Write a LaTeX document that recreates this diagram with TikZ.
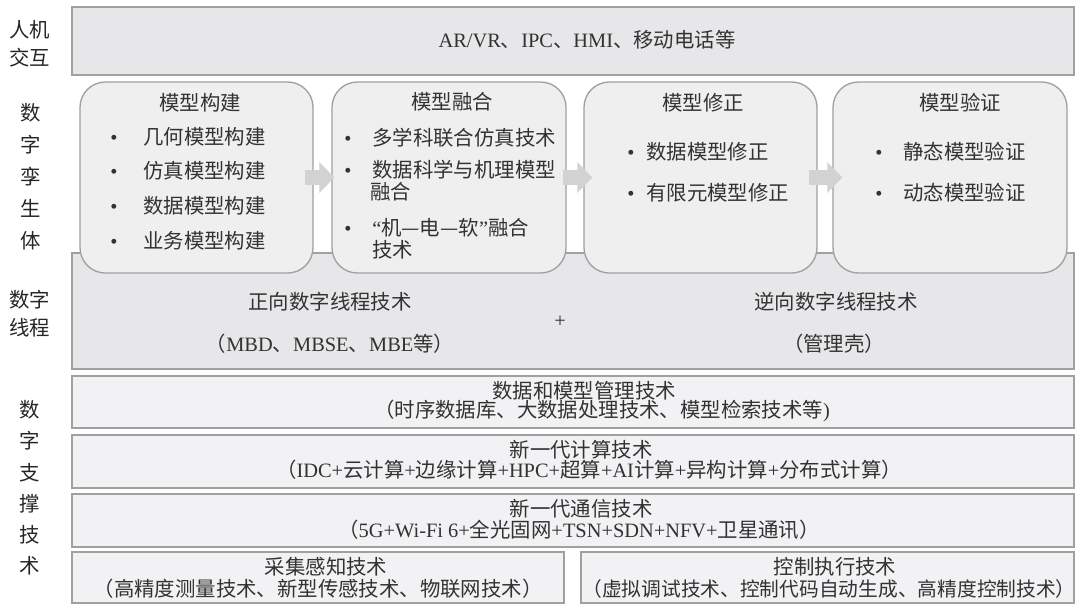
\documentclass[tikz,border=0pt]{standalone}
\usepackage{fontspec}
\setmainfont{Noto Sans CJK SC}
\newfontfamily\latin{Liberation Serif}
\newcommand{\lat}[1]{{\latin #1}}
\newcommand{\bul}[1]{\makebox[#1][l]{\lat{•}}}
\usetikzlibrary{arrows.meta,fit}
\definecolor{bandfill}{RGB}{231,231,233}
\definecolor{twinfill}{RGB}{239,239,240}
\definecolor{techfill}{RGB}{242,242,244}
\definecolor{edgegray}{RGB}{160,160,160}
\definecolor{arrowgray}{RGB}{210,210,210}
\definecolor{txtgray}{RGB}{50,50,50}

\begin{document}
\begin{tikzpicture}[x=0.75pt,y=-0.75pt,
    band/.style={draw=edgegray,fill=bandfill,line width=1pt,inner sep=0pt},
    twin/.style={draw=edgegray,fill=twinfill,line width=1pt,rounded corners=19pt,inner sep=0pt},
    tech/.style={draw=edgegray,fill=techfill,line width=1pt,inner sep=0pt},
    flow/.style={draw=arrowgray,line width=11.25pt,-{Triangle[length=11.25pt,width=22.5pt]}},
    txt/.style={text=txtgray,inner sep=0pt,font=\fontsize{15.3}{16.5}\selectfont},
    side/.style={text=black!85,inner sep=0pt,align=center,font=\fontsize{15.3}{21}\selectfont},
    item/.style={txt,anchor=west,align=left}]
\useasboundingbox (0,0) rectangle (1080,612);

%Shape: Rectangle [top band]
\node[band,fit={(72,7) (1074,75)}] (hmi) {};
%Shape: Rectangle [thread band]
\node[band,fit={(72,253) (1074,369)}] (thread) {};
%Shape: Rounded Rectangles [twin stages]
\node[twin,fit={(80,82) (313,273)}] (build) {};
\node[twin,fit={(332,82) (566,273)}] (fuse) {};
\node[twin,fit={(584,82) (817,273)}] (correct) {};
\node[twin,fit={(833,82) (1067,273)}] (verify) {};
%Shape: Rectangles [support layers]
\node[tech,fit={(72,376) (1074,428)}] (datamgmt) {};
\node[tech,fit={(72,435) (1074,488)}] (compute) {};
\node[tech,fit={(72,494) (1074,547)}] (comms) {};
\node[tech,fit={(72,552) (564,603)}] (sensing) {};
\node[tech,fit={(581,552) (1074,603)}] (control) {};

%Block Arrows
\draw[flow] ([shift={(-9,0)}]build.east) -- ([shift={(3,0)}]fuse.west);
\draw[flow] ([shift={(-4,0)}]fuse.east) -- ([shift={(9,0)}]correct.west);
\draw[flow] ([shift={(-9,0)}]correct.east) -- ([shift={(10,0)}]verify.west);

% Side Labels
\node[side] (lblhmi) at (30,44) {人机\\交互};
\node[side,font=\fontsize{15.3}{24}\selectfont] (lbltwin) at (31,177) {数\\字\\孪\\生\\体};
\node[side] (lblthread) at (30,314) {数字\\线程};
\node[side,font=\fontsize{15.3}{23.4}\selectfont] (lblsupport) at (30,488) {数\\字\\支\\撑\\技\\术};

% Text Node
\node[txt] (hmitxt) at (587,40) {\lat{AR/VR}、\lat{IPC}、\lat{HMI}、移动电话等};

% Text Nodes [model building]
\node[txt] (buildttl) at (200,103) {模型构建};
\node[item] (build1) at (110,137) {\bul{24.75pt}几何模型构建};
\node[item] (build2) at (110,171) {\bul{24.75pt}仿真模型构建};
\node[item] (build3) at (110,206) {\bul{24.75pt}数据模型构建};
\node[item] (build4) at (110,241) {\bul{24.75pt}业务模型构建};
% Text Nodes [model fusion]
\node[txt] (fusettl) at (452,102) {模型融合};
\node[item] (fuse1) at (344,138) {\bul{21pt}多学科联合仿真技术};
\node[item] (fuse2) at (344,181) {\bul{21pt}数据科学与机理模型\\\hspace*{19.5pt}融合};
\node[item] (fuse3) at (344,239) {\bul{21pt}\lat{“}机—电—软\lat{”}融合\\\hspace*{21pt}技术};
% Text Nodes [model correction]
\node[txt] (correctttl) at (703,103) {模型修正};
\node[item] (correct1) at (627,152) {\bul{14.25pt}数据模型修正};
\node[item] (correct2) at (627,193) {\bul{14.25pt}有限元模型修正};
% Text Nodes [model verification]
\node[txt] (verifyttl) at (960,103) {模型验证};
\node[item] (verify1) at (875,152) {\bul{21pt}静态模型验证};
\node[item] (verify2) at (875,193) {\bul{21pt}动态模型验证};

% Text Nodes [digital thread]
\node[txt] (fwdttl) at (330,302) {正向数字线程技术};
\node[txt] (fwdsub) at (330,344) {（\lat{MBD}、\lat{MBSE}、\lat{MBE}等）};
\node[txt] (plus) at (560,322) {\lat{+}};
\node[txt] (revttl) at (836,302) {逆向数字线程技术};
\node[txt] (revsub) at (834,344) {（管理壳）};

% Text Nodes [support layers]
\node[txt] (datattl) at (584,391) {数据和模型管理技术};
\node[txt] (datasub) at (602,411) {（时序数据库、大数据处理技术、模型检索技术等\lat{)}};
\node[txt] (compttl) at (581,450) {新一代计算技术};
\node[txt] (compsub) at (589,470) {（\lat{IDC+}云计算\lat{+}边缘计算\lat{+HPC+}超算\lat{+AI}计算\lat{+}异构计算\lat{+}分布式计算）};
\node[txt] (commttl) at (581,509) {新一代通信技术};
\node[txt] (commsub) at (579,530) {（\lat{5G+Wi-Fi 6+}全光固网\lat{+TSN+SDN+NFV+}卫星通讯）};
\node[txt] (sensettl) at (326,567) {采集感知技术};
\node[txt] (sensesub) at (318,589) {（高精度测量技术、新型传感技术、物联网技术）};
\node[txt] (ctrlttl) at (835,567) {控制执行技术};
\node[txt,font=\fontsize{14.8}{16}\selectfont] (ctrlsub) at (829,589) {（虚拟调试技术、控制代码自动生成、高精度控制技术）};
\end{tikzpicture}
\end{document}
